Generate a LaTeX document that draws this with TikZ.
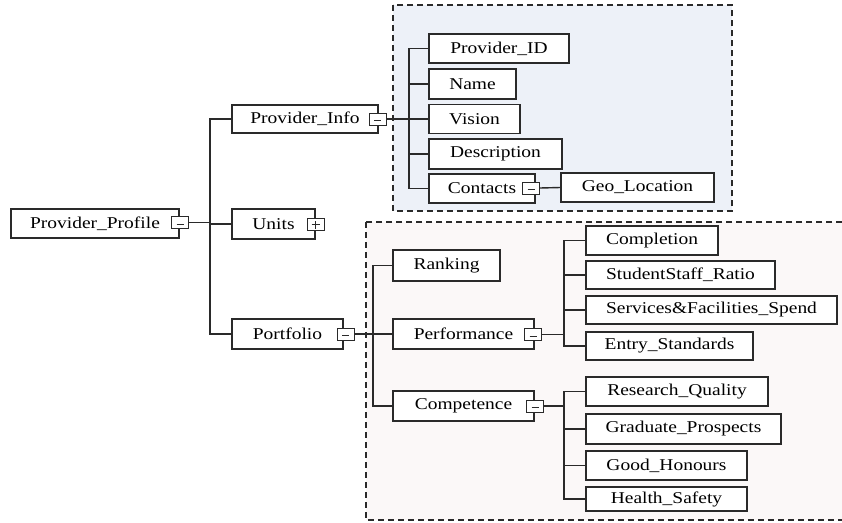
\documentclass[tikz,border=0pt]{standalone}
\usepackage{fontspec}
\setmainfont[FakeStretch=1.18]{Liberation Serif}
\definecolor{grpblue}{HTML}{EDF1F8}
\definecolor{grppink}{HTML}{FBF8F8}
\definecolor{ink}{HTML}{2A2A2A}
\newcommand\bx[6]{\node[box, minimum width=#4pt, minimum height=#5pt] (#1) at (#2,#3) {#6};}
\newcommand\togm[3]{\node[tog] (#1) at (#2,#3) {};
  \draw[line width=1pt, ink] ([xshift=-3.5pt,yshift=-1.5pt]#1.center) -- ([xshift=3.5pt,yshift=-1.5pt]#1.center);}
\newcommand\togp[3]{\node[tog] (#1) at (#2,#3) {};
  \draw[line width=1pt, ink] ([xshift=-4pt]#1.center) -- ([xshift=4pt]#1.center)
    ([yshift=-4pt]#1.center) -- ([yshift=4pt]#1.center);}
\begin{document}
\begin{tikzpicture}[x=1pt,y=-1pt,
  box/.style={draw=ink, line width=1.5pt, fill=white, inner sep=0pt,
    font=\fontsize{16.5}{18}\selectfont},
  tog/.style={draw=ink, line width=1pt, fill=white, minimum width=17pt,
    minimum height=12pt, inner sep=0pt},
  link/.style={draw=ink, line width=1.4pt},
  grp/.style={draw=ink, dash pattern=on 6pt off 4pt, line width=1.3pt}]
\useasboundingbox (0,0) rectangle (842,522);
% group backgrounds
\draw[grp, fill=grpblue] (393,5) rectangle (732,211);
\draw[grp, fill=grppink] (366,222) rectangle (846,520);
% root and first level
\bx{pp}{95}{223.5}{168}{29}{Provider\_Profile}
\bx{pi}{305}{119}{146}{28}{Provider\_Info}
\bx{un}{273.5}{224}{83}{30}{Units}
\bx{pf}{287.5}{334}{111}{30}{Portfolio}
% provider info children
\bx{pid}{499}{48.5}{140}{29}{Provider\_ID}
\bx{nm}{472.5}{84}{87}{30}{Name}
\bx{vi}{474.5}{119}{91}{29}{Vision}
\bx{de}{495.5}{154}{133}{30}{Description}
\bx{co}{482}{188.5}{106}{29}{Contacts}
\bx{geo}{637.5}{187.5}{153}{29}{Geo\_Location}
% portfolio children
\bx{rk}{446.5}{265.5}{107}{31}{Ranking}
\bx{pe}{463.5}{334}{141}{30}{Performance}
\bx{cp}{463.5}{406}{141}{30}{Competence}
\bx{c1}{652}{240.5}{132}{29}{Completion}
\bx{c2}{680.5}{275}{189}{28}{StudentStaff\_Ratio}
\bx{c3}{711.5}{310}{251}{28}{Services\&Facilities\_Spend}
\bx{c4}{669.5}{346}{167}{28}{Entry\_Standards}
\bx{d1}{677}{391.5}{182}{29}{Research\_Quality}
\bx{d2}{683.5}{429}{195}{30}{Graduate\_Prospects}
\bx{d3}{666.5}{465.5}{161}{29}{Good\_Honours}
\bx{d4}{666.5}{499}{161}{24}{Health\_Safety}
% toggles
\togm{ppt}{180}{222.5}
\togm{pit}{377.5}{119}
\togp{unt}{315.5}{224.5}
\togm{pft}{345.5}{334}
\togm{cot}{531}{188}
\togm{pet}{533}{334.5}
\togm{cpt}{535}{406}
% junctions
\coordinate (j1) at (210,222.5);
\coordinate (j2) at (409,119);
\coordinate (j3) at (373,334);
\coordinate (j4) at (564,334.5);
\coordinate (j5) at (564,406);
% connectors
\draw[link] (ppt.east) -- (j1);
\draw[link] (j1) |- (pi.west);
\draw[link] (j1) |- (un.west);
\draw[link] (j1) |- (pf.west);
\draw[link] (pit.east) -- (j2) -- (vi.west);
\draw[link] (j2) |- (pid.west);
\draw[link] (j2) |- (nm.west);
\draw[link] (j2) |- (de.west);
\draw[link] (j2) |- (co.west);
\draw[link] (cot.east) -- (geo.west);
\draw[link] (pft.east) -- (j3);
\draw[link] (j3) |- (rk.west);
\draw[link] (j3) |- (pe.west);
\draw[link] (j3) |- (cp.west);
\draw[link] (pet.east) -- (j4);
\draw[link] (j4) |- (c1.west);
\draw[link] (j4) |- (c2.west);
\draw[link] (j4) |- (c3.west);
\draw[link] (j4) |- (c4.west);
\draw[link] (cpt.east) -- (j5);
\draw[link] (j5) |- (d1.west);
\draw[link] (j5) |- (d2.west);
\draw[link] (j5) |- (d3.west);
\draw[link] (j5) |- (d4.west);
\end{tikzpicture}
\end{document}
